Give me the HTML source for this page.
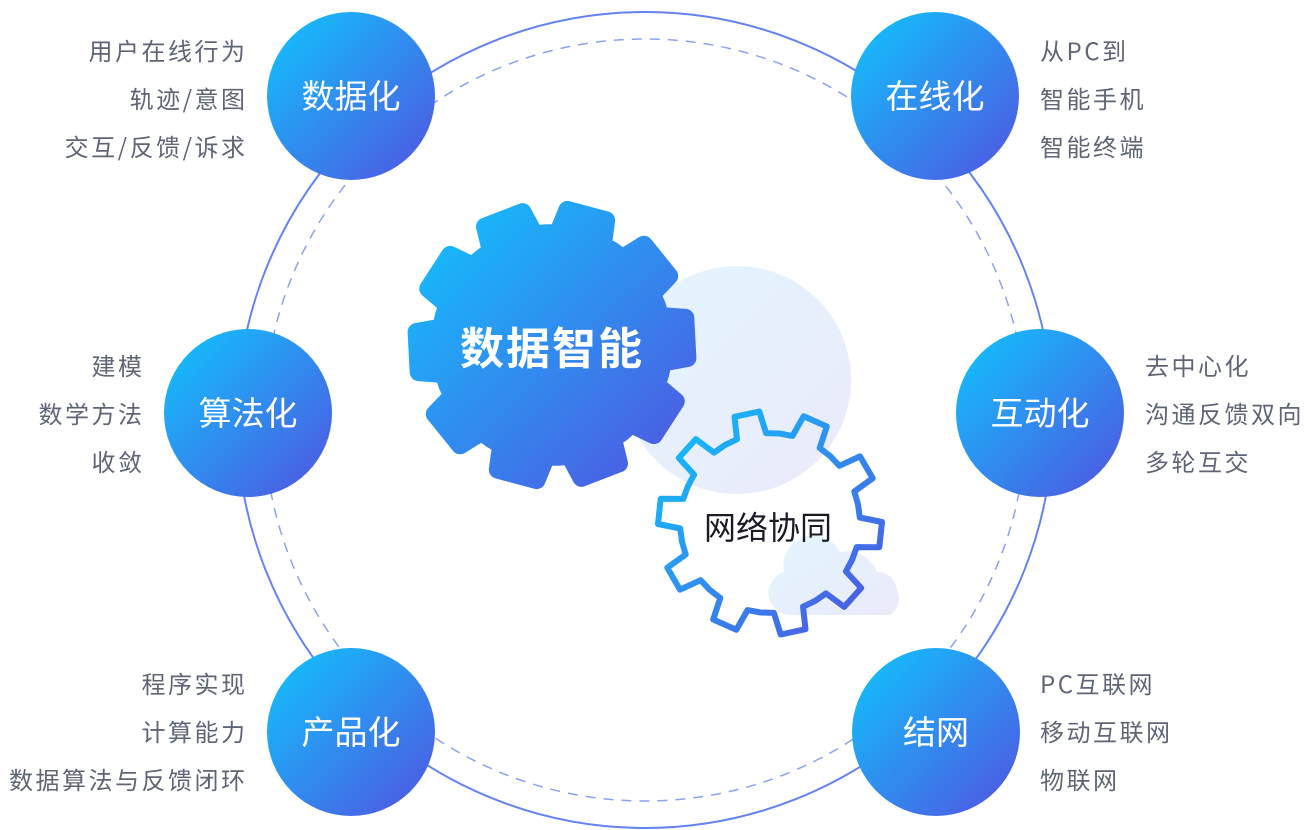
<!DOCTYPE html>
<html><head><meta charset="utf-8">
<style>
html,body{margin:0;padding:0;background:#fff;}
body{width:1310px;height:830px;overflow:hidden;position:relative;font-family:"Noto Sans CJK SC","Liberation Sans",sans-serif;}
.t{position:absolute;font-size:24px;color:#5f6577;line-height:48px;white-space:nowrap;letter-spacing:2.5px;}
.r{text-align:right;margin-right:-2.5px;}
svg{position:absolute;left:0;top:0;}
</style></head><body>
<svg width="1310" height="830" viewBox="0 0 1310 830">
<defs>
<linearGradient id="g" x1="0" y1="0" x2="1" y2="1">
<stop offset="0" stop-color="#0fc6fd"/><stop offset="1" stop-color="#5252e0"/></linearGradient>
<linearGradient id="gu" gradientUnits="userSpaceOnUse" x1="655" y1="410" x2="885" y2="635">
<stop offset="0" stop-color="#0fc6fd"/><stop offset="1" stop-color="#5252e0"/></linearGradient>
<linearGradient id="gb" gradientUnits="userSpaceOnUse" x1="410" y1="200" x2="690" y2="490">
<stop offset="0" stop-color="#0fc6fd"/><stop offset="1" stop-color="#5252e0"/></linearGradient>
<linearGradient id="lg" x1="0" y1="0" x2="1" y2="1">
<stop offset="0" stop-color="#e2f5fe"/><stop offset="1" stop-color="#ebeafa"/></linearGradient>
</defs>
<circle cx="645" cy="420" r="408" fill="none" stroke="#6483ee" stroke-width="2"/>
<circle cx="645" cy="420" r="381" fill="none" stroke="#8aa2f2" stroke-width="1.5" stroke-dasharray="10 8"/>
<circle cx="737" cy="380" r="114" fill="url(#lg)"/>
<path d="M790 615 a22 22 0 0 1 -6 -43 a30 30 0 0 1 56 -20 a32 32 0 0 1 37 20 a20 20 0 0 1 20 18 a20 20 0 0 1 -7 25 z" fill="url(#lg)"/>
<path id="big" fill="url(#gb)" stroke="url(#gb)" stroke-width="18" stroke-linejoin="round"/>
<path id="small" fill="none" stroke="url(#gu)" stroke-width="6" stroke-linejoin="round"/>
<text x="552" y="364" font-size="44" font-weight="bold" fill="#fff" text-anchor="middle" letter-spacing="2" font-family="Noto Sans CJK SC, sans-serif">数据智能</text>
<text x="768" y="539" font-size="32" fill="#1a1a28" text-anchor="middle" font-family="Noto Sans CJK SC, sans-serif">网络协同</text>
<g font-size="33" fill="#fff" text-anchor="middle" font-family="Noto Sans CJK SC, sans-serif">
<circle cx="351" cy="96" r="84" fill="url(#g)"/><text x="351" y="108">数据化</text>
<circle cx="935" cy="96" r="84" fill="url(#g)"/><text x="935" y="108">在线化</text>
<circle cx="248" cy="413" r="84" fill="url(#g)"/><text x="248" y="425">算法化</text>
<circle cx="1040" cy="413" r="84" fill="url(#g)"/><text x="1040" y="425">互动化</text>
<circle cx="351" cy="732" r="84" fill="url(#g)"/><text x="351" y="744">产品化</text>
<circle cx="936" cy="732" r="84" fill="url(#g)"/><text x="936" y="744">结网</text>
</g>
</svg>
<div class="t r" style="right:1065px;top:26px">用户在线行为<br>轨迹/意图<br>交互/反馈/诉求</div>
<div class="t" style="left:1040px;top:26px">从PC到<br>智能手机<br>智能终端</div>
<div class="t r" style="right:1168px;top:341px">建模<br>数学方法<br>收敛</div>
<div class="t" style="left:1145px;top:341px">去中心化<br>沟通反馈双向<br>多轮互交</div>
<div class="t r" style="right:1065px;top:659px">程序实现<br>计算能力<br>数据算法与反馈闭环</div>
<div class="t" style="left:1040px;top:659px">PC互联网<br>移动互联网<br>物联网</div>
<script>
function gear(cx,cy,n,ro,ri,tipHalf,baseHalf,off){
  var pts=[],s=360/n;
  for(var i=0;i<n;i++){
    var a=off+i*s;
    var seq=[[ri,a-s/2+0.01],[ri,a-baseHalf],[ro,a-tipHalf],[ro,a+tipHalf],[ri,a+baseHalf]];
    seq.forEach(function(p){var r=p[1]*Math.PI/180;pts.push((cx+p[0]*Math.cos(r)).toFixed(1)+","+(cy+p[0]*Math.sin(r)).toFixed(1));});
  }
  return "M"+pts.join("L")+"Z";
}
document.getElementById("big").setAttribute("d",gear(552,345,10,136,112,8.5,12,-3));
document.getElementById("small").setAttribute("d",gear(770,523,10,112,90,6.5,9.5,6));
</script>
</body></html>
